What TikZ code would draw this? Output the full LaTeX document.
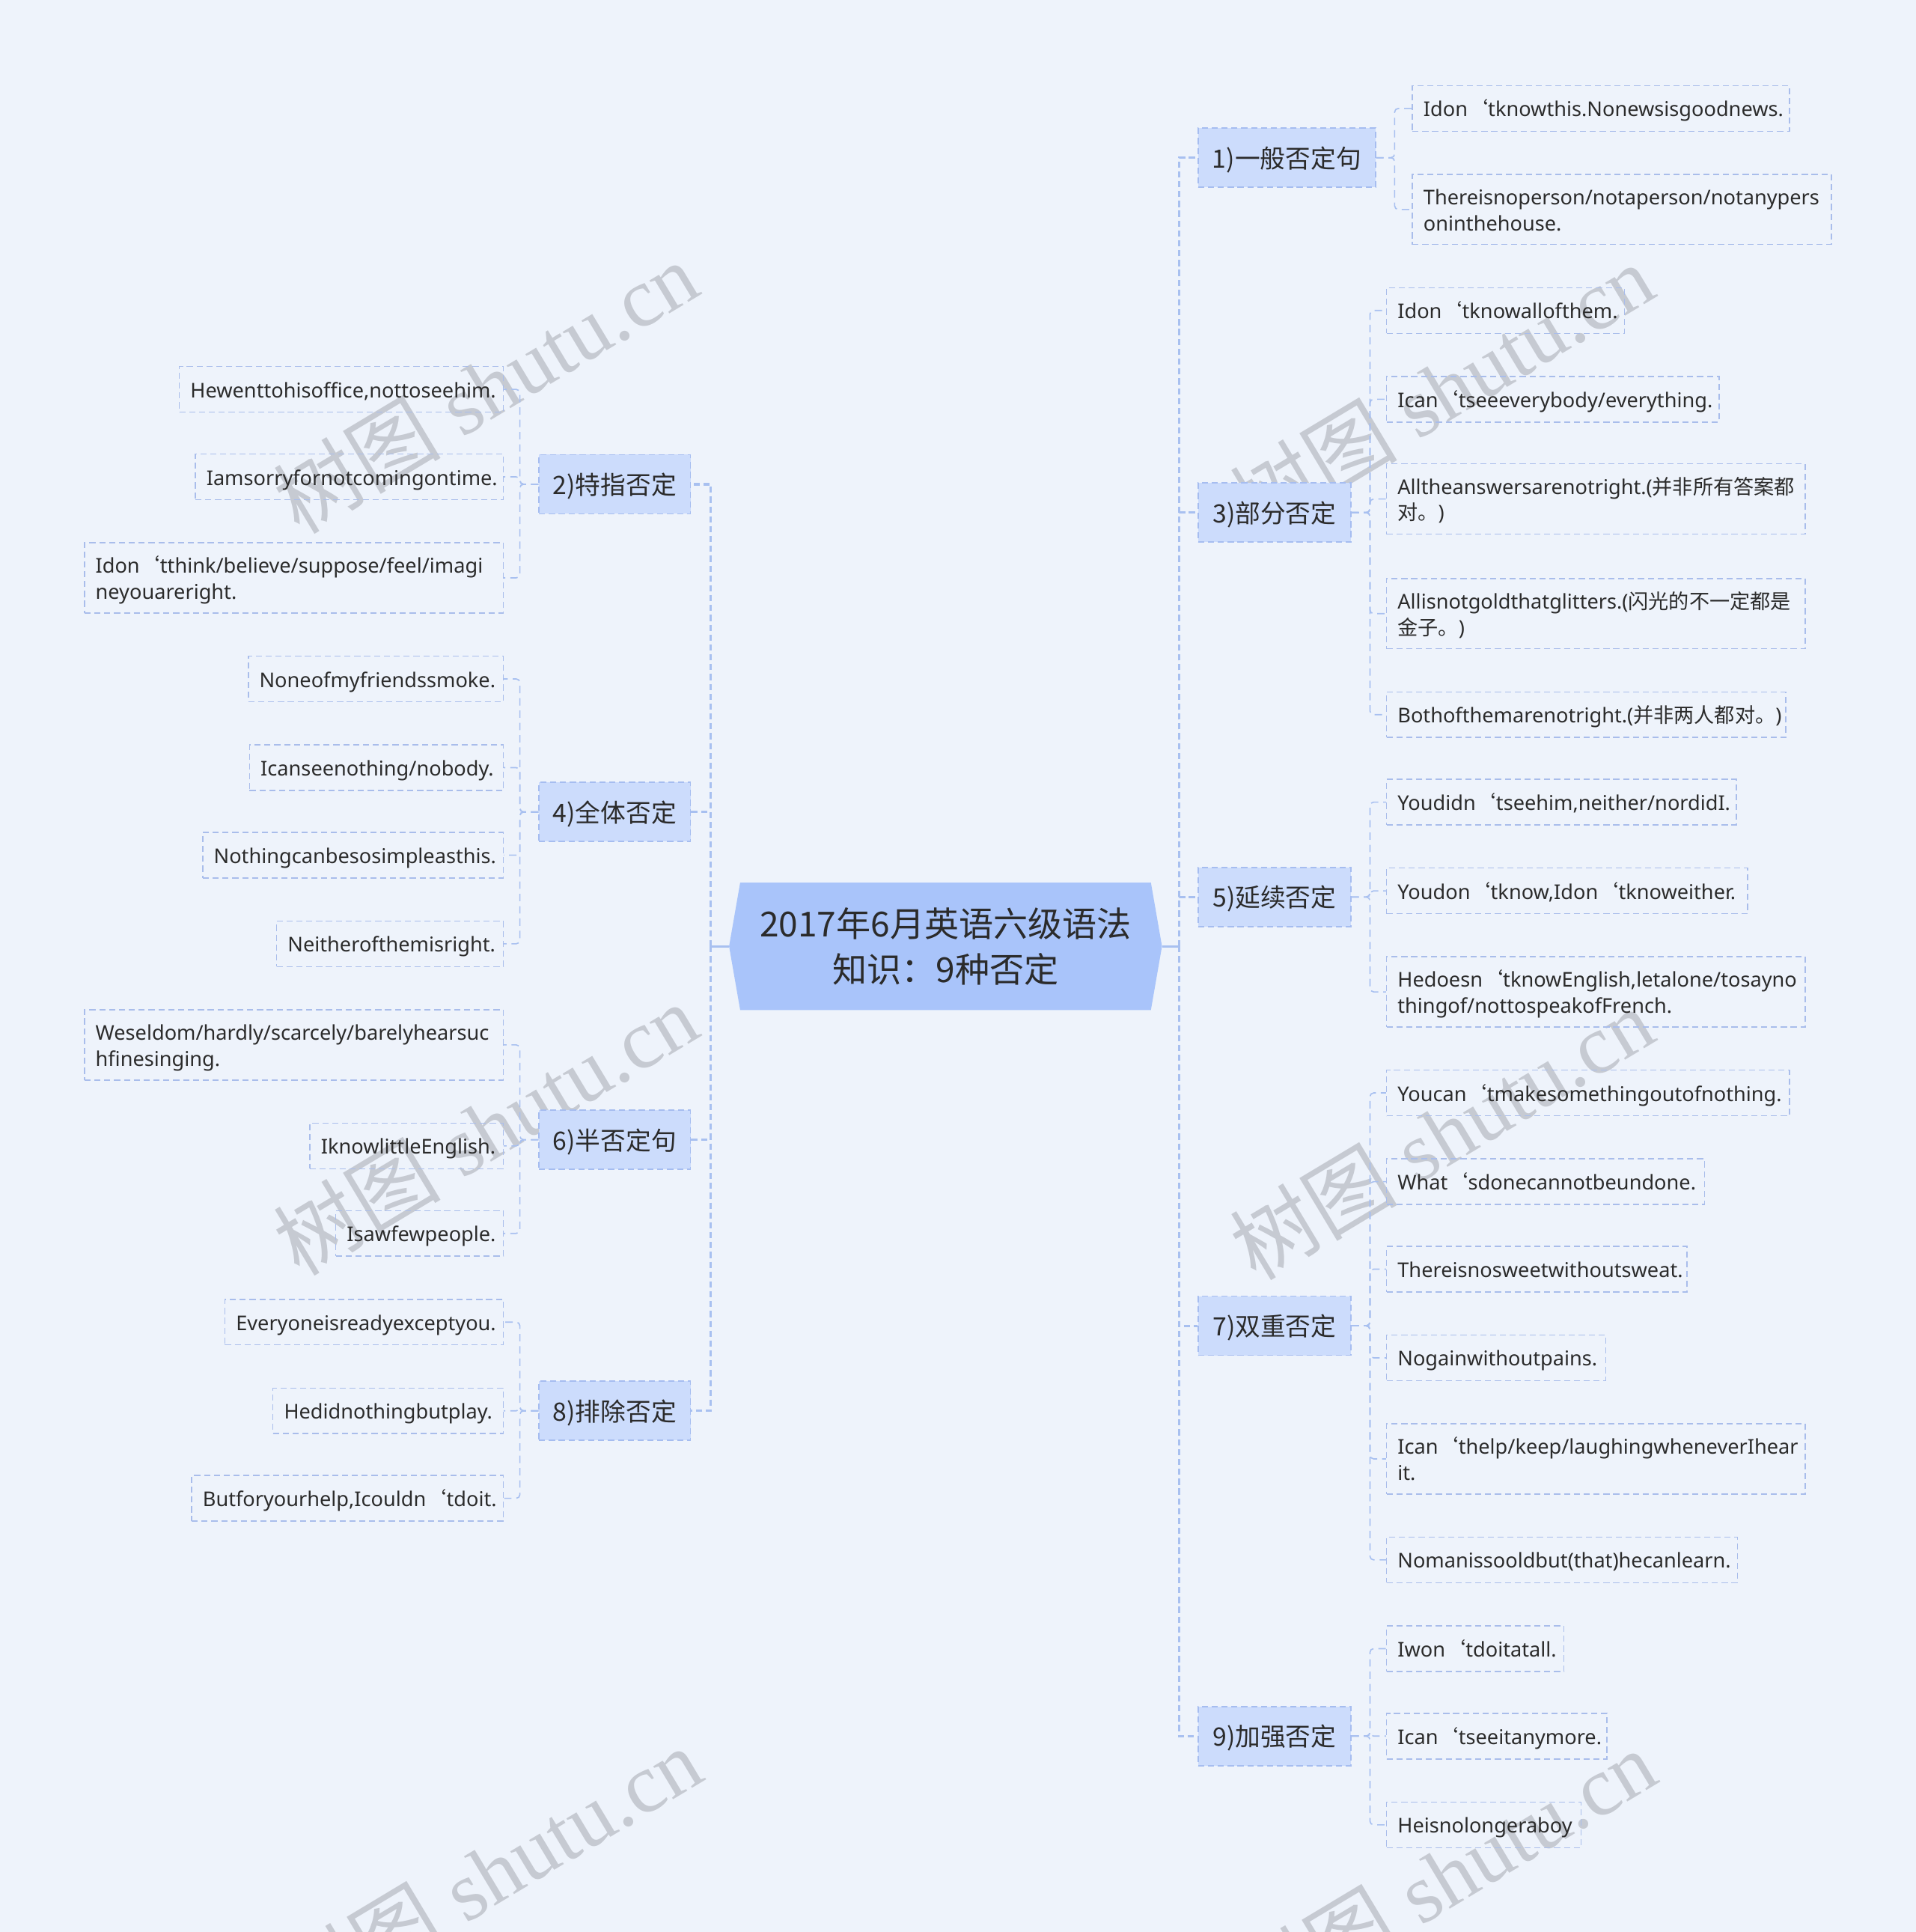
\documentclass[tikz,border=0pt]{standalone}
\usepackage{fontspec}
\setmainfont{Noto Sans}
\newfontfamily\cjk{Noto Sans CJK SC}
\newfontfamily\wmlat{Liberation Serif}
\definecolor{bgc}{HTML}{EEF3FB}
\definecolor{cfill}{HTML}{A9C4FA}
\definecolor{brfill}{HTML}{CCDCFC}
\definecolor{brc}{HTML}{A6BDF0}
\definecolor{leafc}{HTML}{A9BDEB}
\definecolor{linec}{HTML}{A8C0F0}
\definecolor{txt}{HTML}{2B2B2B}
\definecolor{wmc}{HTML}{C6CAD2}
\pgfdeclarelayer{bglayer}
\pgfdeclarelayer{hexlayer}
\pgfsetlayers{bglayer,hexlayer,main}
\newcommand\leaftxt[2]{\raisebox{-2.5pt}[\height][\depth]{\makebox[#1pt][l]{\begin{tabular}{@{}l@{}}#2\end{tabular}}}}
\newcommand\brtxt[1]{\raisebox{-1.5pt}[\height][\depth]{#1}}
\newcommand\q{{\cjk ‘}}
\tikzset{
  leaf/.style={draw=leafc, dash pattern=on 5pt off 3pt, line width=0.9pt, inner xsep=9pt, inner ysep=0pt, minimum height=37pt, font=\fontsize{16.5}{21}\selectfont, text=txt},
  branch/.style={draw=brc, fill=brfill, dash pattern=on 5pt off 3pt, line width=1pt, minimum height=48pt, inner sep=0pt, font=\cjk\fontsize{20.5}{24}\selectfont, text=txt},
  trunk/.style={draw=linec, line width=2pt, dash pattern=on 5pt off 3pt},
  trunksolid/.style={draw=linec, line width=2pt},
  sub/.style={draw=linec, line width=1pt, dash pattern=on 6pt off 4pt, rounded corners=3pt},
  wm/.style={text=wmc, rotate=31, font=\fontsize{68}{76}\selectfont}
}
\begin{document}
\begin{tikzpicture}[x=1pt,y=-1pt]
\useasboundingbox (0,0) rectangle (1555,1568);
\begin{pgfonlayer}{bglayer}
\fill[bgc] (0,0) rectangle (1555,1568);
\node[wm] (w1) at (394,314) {{\cjk 树图} {\wmlat shutu.cn}};
\node[wm] (w2) at (1170,316) {{\cjk 树图} {\wmlat shutu.cn}};
\node[wm] (w3) at (394,916) {{\cjk 树图} {\wmlat shutu.cn}};
\node[wm] (w4) at (1170,920) {{\cjk 树图} {\wmlat shutu.cn}};
\node[wm] (w5) at (397,1520) {{\cjk 树图} {\wmlat shutu.cn}};
\node[wm] (w6) at (1172,1522) {{\cjk 树图} {\wmlat shutu.cn}};
\end{pgfonlayer}

% center
\node[minimum width=351pt, minimum height=103pt, inner sep=0pt, align=center, text=txt, font=\cjk\fontsize{28}{37}\selectfont] (c) at (767.5,768) {2017年6月英语六级语法\\知识：9种否定};
\begin{pgfonlayer}{hexlayer}
\fill[cfill] ([xshift=9pt]c.north west) -- ([xshift=-9pt]c.north east) -- (c.east) -- ([xshift=-9pt]c.south east) -- ([xshift=9pt]c.south west) -- (c.west) -- cycle;
\end{pgfonlayer}
\coordinate (cR) at (957,768);
\coordinate (cL) at (577,768);

% branches right
\node[branch, anchor=west, minimum width=144pt] (b1) at (972,128) {\brtxt{1)一般否定句}};
\node[branch, anchor=west, minimum width=124pt] (b3) at (972,416) {\brtxt{3)部分否定}};
\node[branch, anchor=west, minimum width=124pt] (b5) at (972,728) {\brtxt{5)延续否定}};
\node[branch, anchor=west, minimum width=124pt] (b7) at (972,1076) {\brtxt{7)双重否定}};
\node[branch, anchor=west, minimum width=124pt] (b9) at (972,1409) {\brtxt{9)加强否定}};
% branches left
\node[branch, anchor=east, minimum width=123pt] (b2) at (561,393) {\brtxt{2)特指否定}};
\node[branch, anchor=east, minimum width=123pt] (b4) at (561,659) {\brtxt{4)全体否定}};
\node[branch, anchor=east, minimum width=123pt] (b6) at (561,925) {\brtxt{6)半否定句}};
\node[branch, anchor=east, minimum width=123pt] (b8) at (561,1145) {\brtxt{8)排除否定}};

\draw[trunksolid] (c.east) -- (cR);
\draw[trunksolid] (c.west) -- (cL);
\foreach \b in {b1,b3,b5,b7,b9} \draw[trunk] (cR) |- (\b.west);
\foreach \b in {b2,b4,b6,b8} \draw[trunk] (cL) |- (\b.east);

% leaves right
\node[leaf, anchor=west] (l1a) at (1146,88) {\leaftxt{288}{Idon\q tknowthis.Nonewsisgoodnews.}};
\node[leaf, anchor=west, minimum height=57pt] (l1b) at (1146,170) {\leaftxt{322}{Thereisnoperson/notaperson/notanypers\\oninthehouse.}};

\node[leaf, anchor=west] (l3a) at (1125,252) {\leaftxt{175}{Idon\q tknowallofthem.}};
\node[leaf, anchor=west] (l3b) at (1125,324) {\leaftxt{252}{Ican\q tseeeverybody/everything.}};
\node[leaf, anchor=west, minimum height=57pt] (l3c) at (1125,405) {\leaftxt{322}{Alltheanswersarenotright.({\cjk 并非所有答案都}\\{\cjk 对。})}};
\node[leaf, anchor=west, minimum height=57pt] (l3d) at (1125,498) {\leaftxt{322}{Allisnotgoldthatglitters.({\cjk 闪光的不一定都是}\\{\cjk 金子。})}};
\node[leaf, anchor=west] (l3e) at (1125,580) {\leaftxt{306}{Bothofthemarenotright.({\cjk 并非两人都对。})}};

\node[leaf, anchor=west] (l5a) at (1125,651) {\leaftxt{266}{Youdidn\q tseehim,neither/nordidI.}};
\node[leaf, anchor=west] (l5b) at (1125,723) {\leaftxt{275}{Youdon\q tknow,Idon\q tknoweither.}};
\node[leaf, anchor=west, minimum height=57pt] (l5c) at (1125,805) {\leaftxt{322}{Hedoesn\q tknowEnglish,letalone/tosayno\\thingof/nottospeakofFrench.}};

\node[leaf, anchor=west] (l7a) at (1125,887) {\leaftxt{309}{Youcan\q tmakesomethingoutofnothing.}};
\node[leaf, anchor=west] (l7b) at (1125,959) {\leaftxt{240}{What\q sdonecannotbeundone.}};
\node[leaf, anchor=west] (l7c) at (1125,1030) {\leaftxt{226}{Thereisnosweetwithoutsweat.}};
\node[leaf, anchor=west] (l7d) at (1125,1102) {\leaftxt{160}{Nogainwithoutpains.}};
\node[leaf, anchor=west, minimum height=57pt] (l7e) at (1125,1184) {\leaftxt{322}{Ican\q thelp/keep/laughingwheneverIhear\\it.}};
\node[leaf, anchor=west] (l7f) at (1125,1266) {\leaftxt{267}{Nomanissooldbut(that)hecanlearn.}};

\node[leaf, anchor=west] (l9a) at (1125,1338) {\leaftxt{126}{Iwon\q tdoitatall.}};
\node[leaf, anchor=west] (l9b) at (1125,1409) {\leaftxt{161}{Ican\q tseeitanymore.}};
\node[leaf, anchor=west] (l9c) at (1125,1481) {\leaftxt{140}{Heisnolongeraboy}};

% leaves left
\node[leaf, anchor=east] (l2a) at (409,316) {\leaftxt{245}{Hewenttohisoffice,nottoseehim.}};
\node[leaf, anchor=east] (l2b) at (409,387) {\leaftxt{232}{Iamsorryfornotcomingontime.}};
\node[leaf, anchor=east, minimum height=57pt] (l2c) at (409,469) {\leaftxt{322}{Idon\q tthink/believe/suppose/feel/imagi\\neyouareright.}};

\node[leaf, anchor=east] (l4a) at (409,551) {\leaftxt{189}{Noneofmyfriendssmoke.}};
\node[leaf, anchor=east] (l4b) at (409,623) {\leaftxt{188}{Icanseenothing/nobody.}};
\node[leaf, anchor=east] (l4c) at (409,694) {\leaftxt{226}{Nothingcanbesosimpleasthis.}};
\node[leaf, anchor=east] (l4d) at (409,766) {\leaftxt{166}{Neitherofthemisright.}};

\node[leaf, anchor=east, minimum height=57pt] (l6a) at (409,848) {\leaftxt{322}{Weseldom/hardly/scarcely/barelyhearsuc\\hfinesinging.}};
\node[leaf, anchor=east] (l6b) at (409,930) {\leaftxt{139}{IknowlittleEnglish.}};
\node[leaf, anchor=east] (l6c) at (409,1001) {\leaftxt{118}{Isawfewpeople.}};

\node[leaf, anchor=east] (l8a) at (409,1073) {\leaftxt{208}{Everyoneisreadyexceptyou.}};
\node[leaf, anchor=east] (l8b) at (409,1145) {\leaftxt{169}{Hedidnothingbutplay.}};
\node[leaf, anchor=east] (l8c) at (409,1216) {\leaftxt{235}{Butforyourhelp,Icouldn\q tdoit.}};

% sub connectors
\foreach \l in {l1a,l1b} \draw[sub] (b1.east) -- ++(15,0) |- (\l.west);
\foreach \l in {l3a,l3b,l3c,l3d,l3e} \draw[sub] (b3.east) -- ++(15,0) |- (\l.west);
\foreach \l in {l5a,l5b,l5c} \draw[sub] (b5.east) -- ++(15,0) |- (\l.west);
\foreach \l in {l7a,l7b,l7c,l7d,l7e,l7f} \draw[sub] (b7.east) -- ++(15,0) |- (\l.west);
\foreach \l in {l9a,l9b,l9c} \draw[sub] (b9.east) -- ++(15,0) |- (\l.west);
\foreach \l in {l2a,l2b,l2c} \draw[sub] (b2.west) -- ++(-15,0) |- (\l.east);
\foreach \l in {l4a,l4b,l4c,l4d} \draw[sub] (b4.west) -- ++(-15,0) |- (\l.east);
\foreach \l in {l6a,l6b,l6c} \draw[sub] (b6.west) -- ++(-15,0) |- (\l.east);
\foreach \l in {l8a,l8b,l8c} \draw[sub] (b8.west) -- ++(-15,0) |- (\l.east);
\end{tikzpicture}
\end{document}
